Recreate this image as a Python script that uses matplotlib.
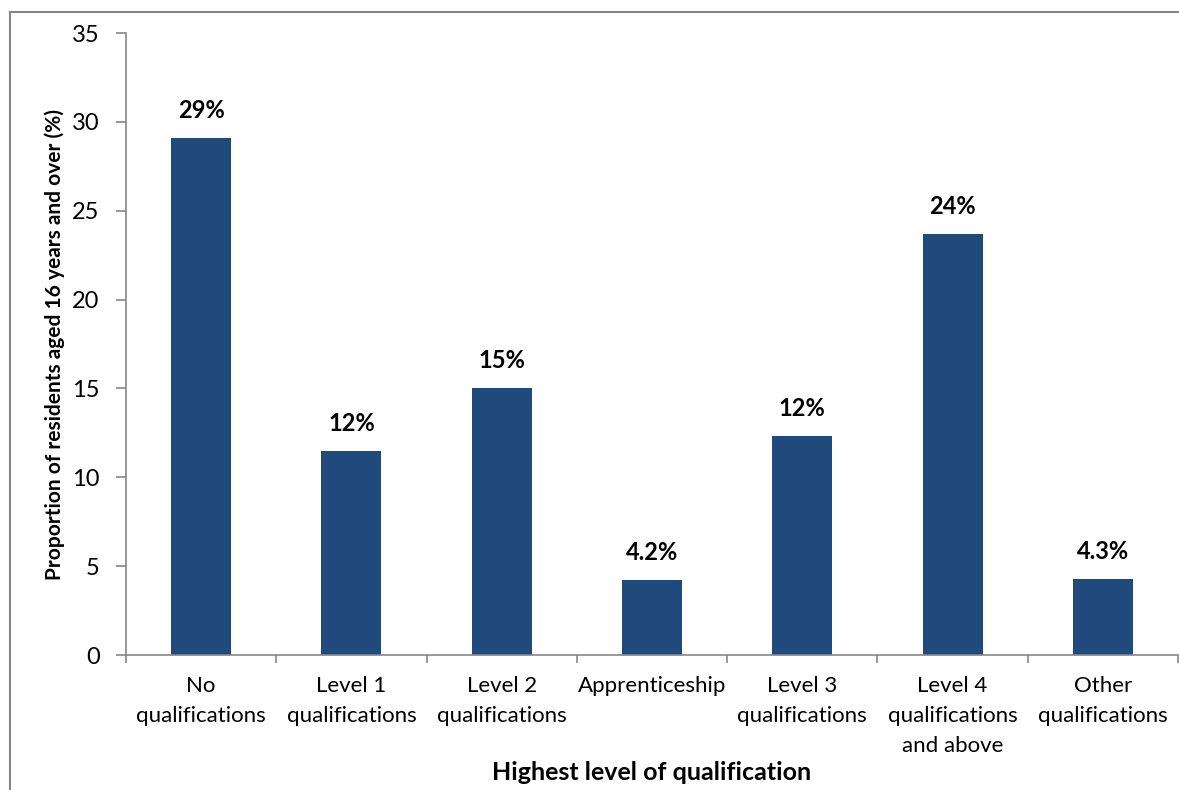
import matplotlib.pyplot as plt
from matplotlib.patches import Rectangle

categories = ['No\nqualifications', 'Level 1\nqualifications', 'Level 2\nqualifications',
              'Apprenticeship', 'Level 3\nqualifications', 'Level 4\nqualifications\nand above',
              'Other\nqualifications']
values = [29.1, 11.5, 15.0, 4.2, 12.3, 23.7, 4.3]
labels = ['29%', '12%', '15%', '4.2%', '12%', '24%', '4.3%']

plt.rcParams['font.family'] = ['Lato', 'DejaVu Sans']
grey = '#868686'

fig = plt.figure(figsize=(11.79, 7.90), dpi=100)
fig.patches.append(Rectangle((10 / 1179, -0.1), 1.2, 1.1 - 12 / 790, transform=fig.transFigure,
                             fill=False, edgecolor=grey, linewidth=1.5))
ax = fig.add_axes([126 / 1179, 1 - 655 / 790, 1052 / 1179, 622 / 790])

x = range(len(values))
ax.bar(x, values, width=0.4, color='#214A7C')
for i, v in enumerate(values):
    ax.text(i, v + 0.9, labels[i], ha='center', va='bottom', fontsize=17, fontweight='bold')

ax.set_xlim(-0.5, len(values) - 0.5)
ax.set_ylim(0, 35)
ax.set_yticks(range(0, 36, 5))
ax.set_xticks(x)
ax.set_xticklabels(categories, fontsize=16, linespacing=1.62, va='top')
ax.set_xticks([i - 0.5 for i in range(len(values) + 1)], minor=True)
ax.tick_params(axis='x', which='major', length=0, pad=15)
ax.tick_params(axis='x', which='minor', length=6, color=grey, width=1.2)
ax.tick_params(axis='y', labelsize=17, length=7, color=grey, width=1.2, pad=12)

for s in ['top', 'right']:
    ax.spines[s].set_visible(False)
for s in ['left', 'bottom']:
    ax.spines[s].set_color(grey)
    ax.spines[s].set_linewidth(1.2)

ax.set_ylabel('Proportion of residents aged 16 years and over (%)', fontsize=15, fontweight='bold', labelpad=5)
ax.set_xlabel('Highest level of qualification', fontsize=18, fontweight='bold', labelpad=4)

fig.savefig('out.png', dpi=100)
